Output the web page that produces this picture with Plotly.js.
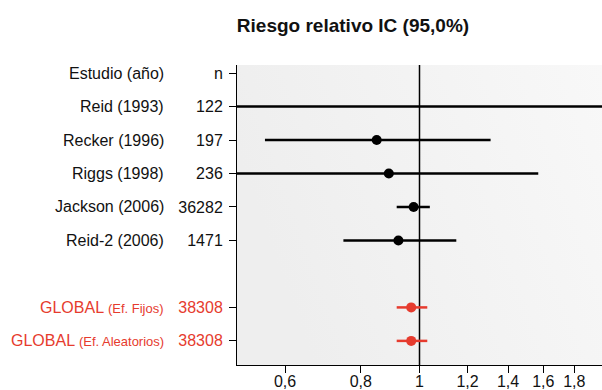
<!DOCTYPE html>
<html>
<head>
<meta charset="utf-8">
<script src="https://cdn.plot.ly/plotly-3.0.1.min.js"></script>
<style>html,body{margin:0;padding:0;background:#fff;}#chart{width:602px;height:390px;}</style>
</head>
<body>
<div id="chart"></div>
<script>
// Data
var studyNames = ['Estudio (año)', 'Reid (1993)', 'Recker (1996)', 'Riggs (1998)', 'Jackson (2006)', 'Reid-2 (2006)', '', 'GLOBAL', 'GLOBAL'];
var studyNotes = ['', '', '', '', '', '', '', '(Ef. Fijos)', '(Ef. Aleatorios)'];
var nLabels = ['n', '122', '197', '236', '36282', '1471', '', '38308', '38308'];
var rr = [null, null, 0.85, 0.89, 0.978, 0.923, null, 0.969, 0.969];
var lower = [null, 0.30, 0.556, 0.45, 0.917, 0.749, null, 0.917, 0.917];
var upper = [null, 3.0, 1.31, 1.57, 1.04, 1.15, null, 1.03, 1.03];
var isGlobal = [false, false, false, false, false, false, false, true, true];
var xTickVals = [0.6, 0.8, 1, 1.2, 1.4, 1.6, 1.8];
var xTickText = ['0,6', '0,8', '1', '1,2', '1,4', '1,6', '1,8'];

var RED = '#e63b2e';
var FONT = 'Liberation Sans, Arial, sans-serif';

function ciTrace(global) {
  var xs = [], ys = [];
  for (var i = 0; i < rr.length; i++) {
    if (isGlobal[i] !== global || lower[i] === null) continue;
    xs.push(lower[i], upper[i], null);
    ys.push(i, i, null);
  }
  return {x: xs, y: ys, type: 'scatter', mode: 'lines', hoverinfo: 'skip',
          line: {color: global ? RED : '#000', width: 2.5}, showlegend: false};
}
function ptTrace(global) {
  var xs = [], ys = [];
  for (var i = 0; i < rr.length; i++) {
    if (isGlobal[i] !== global || rr[i] === null) continue;
    xs.push(rr[i]); ys.push(i);
  }
  return {x: xs, y: ys, type: 'scatter', mode: 'markers', hoverinfo: 'skip',
          marker: {color: global ? RED : '#000', size: 10}, showlegend: false};
}

var yTickVals = [], yTickText = [];
var annotations = [];
for (var i = 0; i < nLabels.length; i++) {
  if (nLabels[i] === '') continue;
  yTickVals.push(i);
  yTickText.push(isGlobal[i] ? '<span style="color:' + RED + '">' + nLabels[i] + '</span>' : nLabels[i]);
  var txt = studyNames[i];
  if (studyNotes[i]) txt += ' <span style="font-size:13px">' + studyNotes[i] + '</span>';
  annotations.push({
    xref: 'paper', yref: 'y', x: (166 - 237) / 365, y: i, xanchor: 'right', yanchor: 'middle',
    text: txt, showarrow: false,
    font: {family: FONT, size: 16, color: isGlobal[i] ? RED : '#111'}
  });
}

var gradSvg = '<svg xmlns="http://www.w3.org/2000/svg" width="100" height="100" preserveAspectRatio="none">' +
  '<defs><linearGradient id="g" x1="0" y1="0.3" x2="1" y2="0"><stop offset="0" stop-color="#eeeeee"/>' +
  '<stop offset="1" stop-color="#f8f8f8"/></linearGradient></defs><rect width="100" height="100" fill="url(#g)"/></svg>';

var layout = {
  width: 602, height: 390,
  margin: {l: 237, r: 0, t: 65, b: 25, pad: 0},
  paper_bgcolor: '#fff',
  plot_bgcolor: '#f1f1f1',
  font: {family: FONT, size: 16, color: '#111'},
  title: {text: '<b>Riesgo relativo IC (95,0%)</b>', x: 353 / 602, xanchor: 'center', xref: 'container',
          y: 1 - 25 / 390, yanchor: 'middle', yref: 'container',
          font: {family: FONT, size: 19, color: '#111'}},
  xaxis: {type: 'log', range: [Math.log10(0.5), Math.log10(2)],
          tickvals: xTickVals, ticktext: xTickText, ticks: 'outside', ticklen: 7, tickcolor: '#000', tickwidth: 1,
          ticklabelstandoff: -5,
          showline: true, linecolor: '#000', linewidth: 1, showgrid: false, zeroline: false,
          tickfont: {family: FONT, size: 16, color: '#111'}, fixedrange: true},
  yaxis: {range: [8.72, -0.24], tickvals: yTickVals, ticktext: yTickText,
          ticks: 'outside', ticklen: 7, tickcolor: '#000', tickwidth: 1, ticklabelstandoff: 3,
          showline: true, linecolor: '#000', linewidth: 1, showgrid: false, zeroline: false,
          tickfont: {family: FONT, size: 16, color: '#111'}, fixedrange: true},
  images: [{source: 'data:image/svg+xml;charset=utf-8,' + encodeURIComponent(gradSvg),
            xref: 'paper', yref: 'paper', x: 0, y: 1, sizex: 1, sizey: 1,
            xanchor: 'left', yanchor: 'top', sizing: 'stretch', layer: 'below'}],
  shapes: [{type: 'line', xref: 'x', yref: 'paper', x0: 1, x1: 1, y0: 0, y1: 1,
            line: {color: '#000', width: 1.5}, layer: 'below'}],
  annotations: annotations
};

Plotly.newPlot('chart', [ciTrace(false), ciTrace(true), ptTrace(false), ptTrace(true)], layout,
  {displayModeBar: false, staticPlot: true});
</script>
</body>
</html>
